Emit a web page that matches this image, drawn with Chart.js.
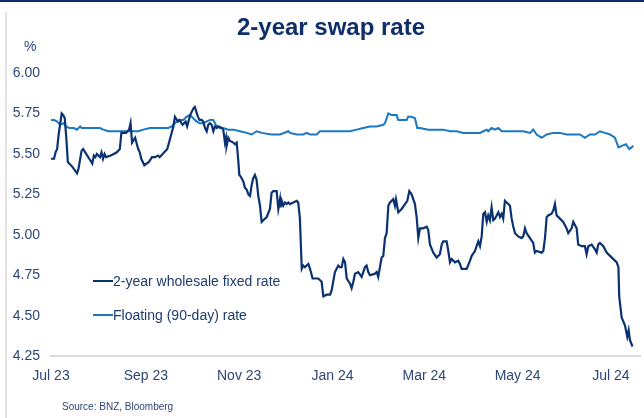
<!DOCTYPE html>
<html>
<head>
<meta charset="utf-8">
<script src="https://cdn.jsdelivr.net/npm/chart.js@4/dist/chart.umd.min.js"></script>
<style>
  body { margin: 0; background: #fff; }
  #wrap { position: relative; width: 644px; height: 418px; font-family: "Liberation Sans", Arial, sans-serif; }
  #topline { position: absolute; left: 0; top: 0; width: 644px; height: 2px; background: #0b2d6b; }
  #leftline { position: absolute; left: 5px; top: 12px; width: 2px; height: 406px; background: #e3e3e3; }
  #title { position: absolute; left: 0; top: 13px; width: 662px; text-align: center; font-size: 24px; line-height: 28px; font-weight: bold; color: #0f2f6b; }
  #unit { position: absolute; left: 24px; top: 38px; font-size: 14px; line-height: 16px; color: #2e4677; }
  #source { position: absolute; left: 62px; top: 401px; font-size: 10px; line-height: 12px; color: #2e4677; }
  .leg { position: absolute; left: 93px; font-size: 14px; line-height: 16px; color: #1d3b6e; white-space: nowrap; }
  .leg span { display: inline-block; width: 20px; height: 2px; vertical-align: middle; margin-right: 0; position: relative; top: -1px; }
  canvas { position: absolute; left: 0; top: 0; }
</style>
</head>
<body>
<div id="wrap">
  <canvas id="swapChart" width="644" height="418"></canvas>
  <div id="topline"></div>
  <div id="leftline"></div>
  <div id="title">2-year swap rate</div>
  <div id="unit">%</div>
  <div class="leg" style="top:273px"><span style="background:#0a3272"></span>2-year wholesale fixed rate</div>
  <div class="leg" style="top:307px"><span style="background:#1a78c2"></span>Floating (90-day) rate</div>
  <div id="source">Source: BNZ, Bloomberg</div>
</div>
<script>
// days counted from 1 Jul 2023
const tickDays = [0, 62, 123, 184, 244, 305, 366];
const tickLabels = ["Jul 23", "Sep 23", "Nov 23", "Jan 24", "Mar 24", "May 24", "Jul 24"];
const yTicks = [4.25, 4.50, 4.75, 5.00, 5.25, 5.50, 5.75, 6.00];

const fixedDays = [
    0, 1, 2, 3, 4, 5, 7, 8, 9, 10,
    11, 14, 17, 18, 20, 21, 23, 25, 27, 28,
    29, 30, 32, 33, 34, 35, 36, 39, 41, 43,
    45, 46, 47, 49, 51, 52, 53, 55, 57, 58,
    59, 61, 64, 66, 68, 70, 71, 73, 76, 78,
    80, 81, 83, 84, 86, 88, 89, 91, 93, 94,
    96, 97, 98.5, 99.5, 100.7, 101.8, 102.8, 103.9, 105, 106.1,
    107.2, 108.3, 109.3, 111.6, 112.6, 113.7, 114.4, 114.8, 115.9, 117,
    119.2, 120.3, 121.4, 122.4, 123.1, 124, 125.7, 126.8, 127.9, 129,
    130.1, 131.2, 132.2, 133.3, 134.4, 135.5, 136.6, 137.7, 138.8, 141,
    143.1, 144.2, 145.3, 147.5, 148.6, 149.7, 150.1, 150.8, 151.8, 152.9,
    154, 155.1, 156.2, 158.4, 160.6, 161.6, 162.7, 163.9, 164.9, 166,
    167.1, 168.2, 169.3, 171, 174.7, 176.9, 178, 180.2, 182.4, 183.5,
    185.6, 186.7, 187.8, 188.9, 190, 191.1, 192.2, 193.3, 195.4, 196.5,
    197.6, 198.7, 200.8, 203.1, 205.2, 206.3, 207.4, 208.5, 211.8, 212.9,
    213.9, 215, 216.1, 217.2, 218.3, 219.4, 220.5, 221.6, 223.7, 224.8,
    225.5, 227, 229.2, 231.4, 232.9, 234.2, 235.7, 237.9, 239, 240.1,
    241.2, 243.3, 245.6, 246.6, 247.7, 249.9, 252.1, 254.2, 255.4, 256.4,
    258.6, 259.7, 260.8, 261.9, 264.1, 266.2, 267.3, 268.4, 271.7, 273.9,
    275, 277.1, 278.2, 279.3, 280.4, 281.5, 282.6, 283.7, 284.8, 285.8,
    286.9, 288, 289.1, 290.2, 291.3, 292.4, 293.5, 294.6, 295.6, 296.7,
    298.9, 300, 301.1, 302.2, 303.3, 305.4, 307.6, 308.7, 309.8, 310.9,
    313.1, 315.2, 316.3, 317.4, 320.7, 321.8, 322.9, 324, 325, 327.2,
    328.3, 329.4, 330.5, 332.7, 334.8, 337, 338.1, 340.3, 341.4, 343.6,
    344.6, 346.9, 349, 350.1, 351.2, 353.4, 355.6, 356.7, 357.7, 358.8,
    361, 363.2, 365.4, 367.6, 369.8, 370.9, 371.4, 373, 375.2, 376.7,
    377.6, 378.4, 380.1
];
const fixedRate = [
    5.47, 5.47, 5.47, 5.51, 5.53, 5.62, 5.75, 5.74, 5.72, 5.60,
    5.45, 5.42, 5.38, 5.41, 5.52, 5.53, 5.50, 5.47, 5.44, 5.49,
    5.48, 5.50, 5.48, 5.51, 5.47, 5.50, 5.48, 5.49, 5.50, 5.51,
    5.53, 5.63, 5.63, 5.63, 5.65, 5.69, 5.57, 5.60, 5.53, 5.51,
    5.47, 5.43, 5.45, 5.48, 5.48, 5.49, 5.48, 5.50, 5.53, 5.60,
    5.67, 5.73, 5.70, 5.71, 5.68, 5.70, 5.67, 5.74, 5.78, 5.79,
    5.73, 5.71, 5.71, 5.70, 5.66, 5.64, 5.68, 5.69, 5.68, 5.64,
    5.67, 5.66, 5.67, 5.66, 5.65, 5.57, 5.60, 5.55, 5.60, 5.58,
    5.57, 5.56, 5.57, 5.46, 5.37, 5.36, 5.33, 5.29, 5.28, 5.25,
    5.24, 5.31, 5.35, 5.37, 5.34, 5.24, 5.18, 5.08, 5.09, 5.11,
    5.16, 5.26, 5.27, 5.27, 5.16, 5.22, 5.17, 5.21, 5.18, 5.20,
    5.19, 5.20, 5.19, 5.20, 5.21, 5.20, 5.10, 4.79, 4.81, 4.80,
    4.81, 4.82, 4.79, 4.73, 4.73, 4.71, 4.62, 4.63, 4.63, 4.66,
    4.77, 4.79, 4.81, 4.80, 4.80, 4.85, 4.83, 4.73, 4.70, 4.67,
    4.71, 4.76, 4.77, 4.74, 4.80, 4.81, 4.77, 4.75, 4.76, 4.77,
    4.74, 4.80, 4.86, 4.87, 4.98, 5.01, 5.18, 5.20, 5.22, 5.18,
    5.22, 5.14, 5.16, 5.19, 5.21, 5.27, 5.25, 5.19, 5.11, 4.98,
    5.04, 5.04, 5.05, 5.03, 4.94, 4.89, 4.86, 4.88, 4.94, 4.96,
    4.96, 4.90, 4.83, 4.85, 4.83, 4.84, 4.82, 4.79, 4.79, 4.84,
    4.87, 4.90, 4.93, 4.96, 4.93, 4.99, 5.13, 5.14, 5.08, 5.12,
    5.09, 5.17, 5.09, 5.10, 5.12, 5.14, 5.11, 5.13, 5.10, 5.21,
    5.19, 5.18, 5.10, 5.05, 5.01, 4.99, 4.98, 4.99, 5.04, 5.01,
    4.98, 4.95, 4.89, 4.90, 4.89, 4.90, 4.98, 5.11, 5.12, 5.13,
    5.15, 5.19, 5.12, 5.10, 5.08, 5.04, 5.01, 5.04, 5.08, 5.04,
    4.94, 4.93, 4.93, 4.88, 4.93, 4.94, 4.91, 4.89, 4.94, 4.95,
    4.93, 4.89, 4.87, 4.85, 4.83, 4.80, 4.62, 4.49, 4.44, 4.37,
    4.41, 4.35, 4.31
];

const floatDays = [
    0, 2, 4, 6, 8, 10, 12, 15, 17, 19,
    20, 22, 25.5, 28.8, 32, 34.2, 37.5, 39.7, 42.9, 46.2,
    49.5, 51.6, 53.8, 57.1, 60.3, 64.7, 69.1, 73.4, 76.7, 78.9,
    79.9, 82.2, 84.3, 86.5, 88.7, 90.8, 93, 95.2, 97.4, 99.5,
    103.9, 106.1, 108.3, 110.5, 112.6, 115.9, 119.2, 123.5, 127.9, 131.2,
    134.4, 137.7, 144.2, 149.7, 155.1, 156.2, 160.6, 164.9, 167.1, 169.3,
    173.7, 175.8, 182.4, 188.9, 195.4, 199.8, 204.1, 208.5, 212.9, 217.2,
    218.3, 220.5, 222.7, 223.7, 225.9, 227, 230.3, 232.5, 233.5, 235.7,
    237.9, 239.4, 241.2, 246.6, 253.1, 256.4, 260.8, 265.2, 269.5, 273.9,
    280.4, 282.6, 284.8, 285.8, 288, 290.2, 292.4, 294.6, 296.7, 300,
    304.4, 308.7, 313.1, 315.2, 317.4, 320.7, 324, 328.3, 332.7, 337,
    341.4, 345.8, 349, 352.3, 355.6, 358.8, 362.1, 365.4, 368.6, 370.9,
    373.1, 375.8, 378, 379.5, 380.6
];
const floatRate = [
    5.71, 5.71, 5.70, 5.68, 5.69, 5.67, 5.66, 5.66, 5.65, 5.67,
    5.66, 5.66, 5.66, 5.66, 5.66, 5.65, 5.64, 5.64, 5.64, 5.64,
    5.64, 5.64, 5.64, 5.64, 5.65, 5.66, 5.66, 5.66, 5.66, 5.67,
    5.68, 5.70, 5.71, 5.71, 5.73, 5.74, 5.72, 5.70, 5.69, 5.69,
    5.71, 5.71, 5.67, 5.66, 5.66, 5.65, 5.65, 5.64, 5.63, 5.62,
    5.64, 5.63, 5.62, 5.62, 5.64, 5.63, 5.62, 5.62, 5.63, 5.62,
    5.62, 5.64, 5.64, 5.64, 5.64, 5.65, 5.66, 5.67, 5.67, 5.68,
    5.69, 5.75, 5.74, 5.74, 5.74, 5.71, 5.71, 5.71, 5.73, 5.73,
    5.72, 5.66, 5.66, 5.65, 5.65, 5.65, 5.64, 5.64, 5.63, 5.63,
    5.63, 5.64, 5.65, 5.64, 5.66, 5.65, 5.66, 5.64, 5.64, 5.64,
    5.64, 5.64, 5.63, 5.65, 5.62, 5.60, 5.62, 5.63, 5.63, 5.62,
    5.62, 5.62, 5.60, 5.62, 5.62, 5.64, 5.63, 5.62, 5.60, 5.54,
    5.55, 5.56, 5.53, 5.54, 5.55
];

const toPoints = (days, vals) => days.map((d, i) => ({ x: d, y: vals[i] }));
const tickColor = "#2e4677";

new Chart(document.getElementById("swapChart"), {
    type: "line",
    data: {
        datasets: [{
            label: "2-year wholesale fixed rate",
            data: toPoints(fixedDays, fixedRate),
            borderColor: "#0a3272",
            borderWidth: 2.2,
            pointRadius: 0,
            tension: 0
        }, {
            label: "Floating (90-day) rate",
            data: toPoints(floatDays, floatRate),
            borderColor: "#1a78c2",
            borderWidth: 2,
            pointRadius: 0,
            tension: 0
        }]
    },
    options: {
        responsive: false,
        animation: false,
        devicePixelRatio: 1,
        layout: { padding: { left: 6, right: 4, top: 73, bottom: 21 } },
        plugins: { legend: { display: false }, tooltip: { enabled: false } },
        scales: {
            x: {
                type: "linear",
                min: 0,
                max: 385,
                grid: { display: false, drawTicks: false },
                border: { display: true, color: "#d9d9d9", width: 2 },
                afterBuildTicks: (scale) => { scale.ticks = tickDays.map(v => ({ value: v })); },
                ticks: {
                    autoSkip: false,
                    maxRotation: 0,
                    padding: 12,
                    color: tickColor,
                    font: { family: "Liberation Sans", size: 14 },
                    callback: (v) => tickLabels[tickDays.indexOf(v)]
                }
            },
            y: {
                min: 4.25,
                max: 6,
                grid: { display: false, drawTicks: false },
                border: { display: false },
                afterFit: (scale) => { scale.width = 45; },
                afterBuildTicks: (scale) => { scale.ticks = yTicks.map(v => ({ value: v })); },
                ticks: {
                    padding: 11,
                    color: tickColor,
                    font: { family: "Liberation Sans", size: 14 },
                    callback: (v) => v.toFixed(2)
                }
            }
        }
    }
});
</script>
</body>
</html>
